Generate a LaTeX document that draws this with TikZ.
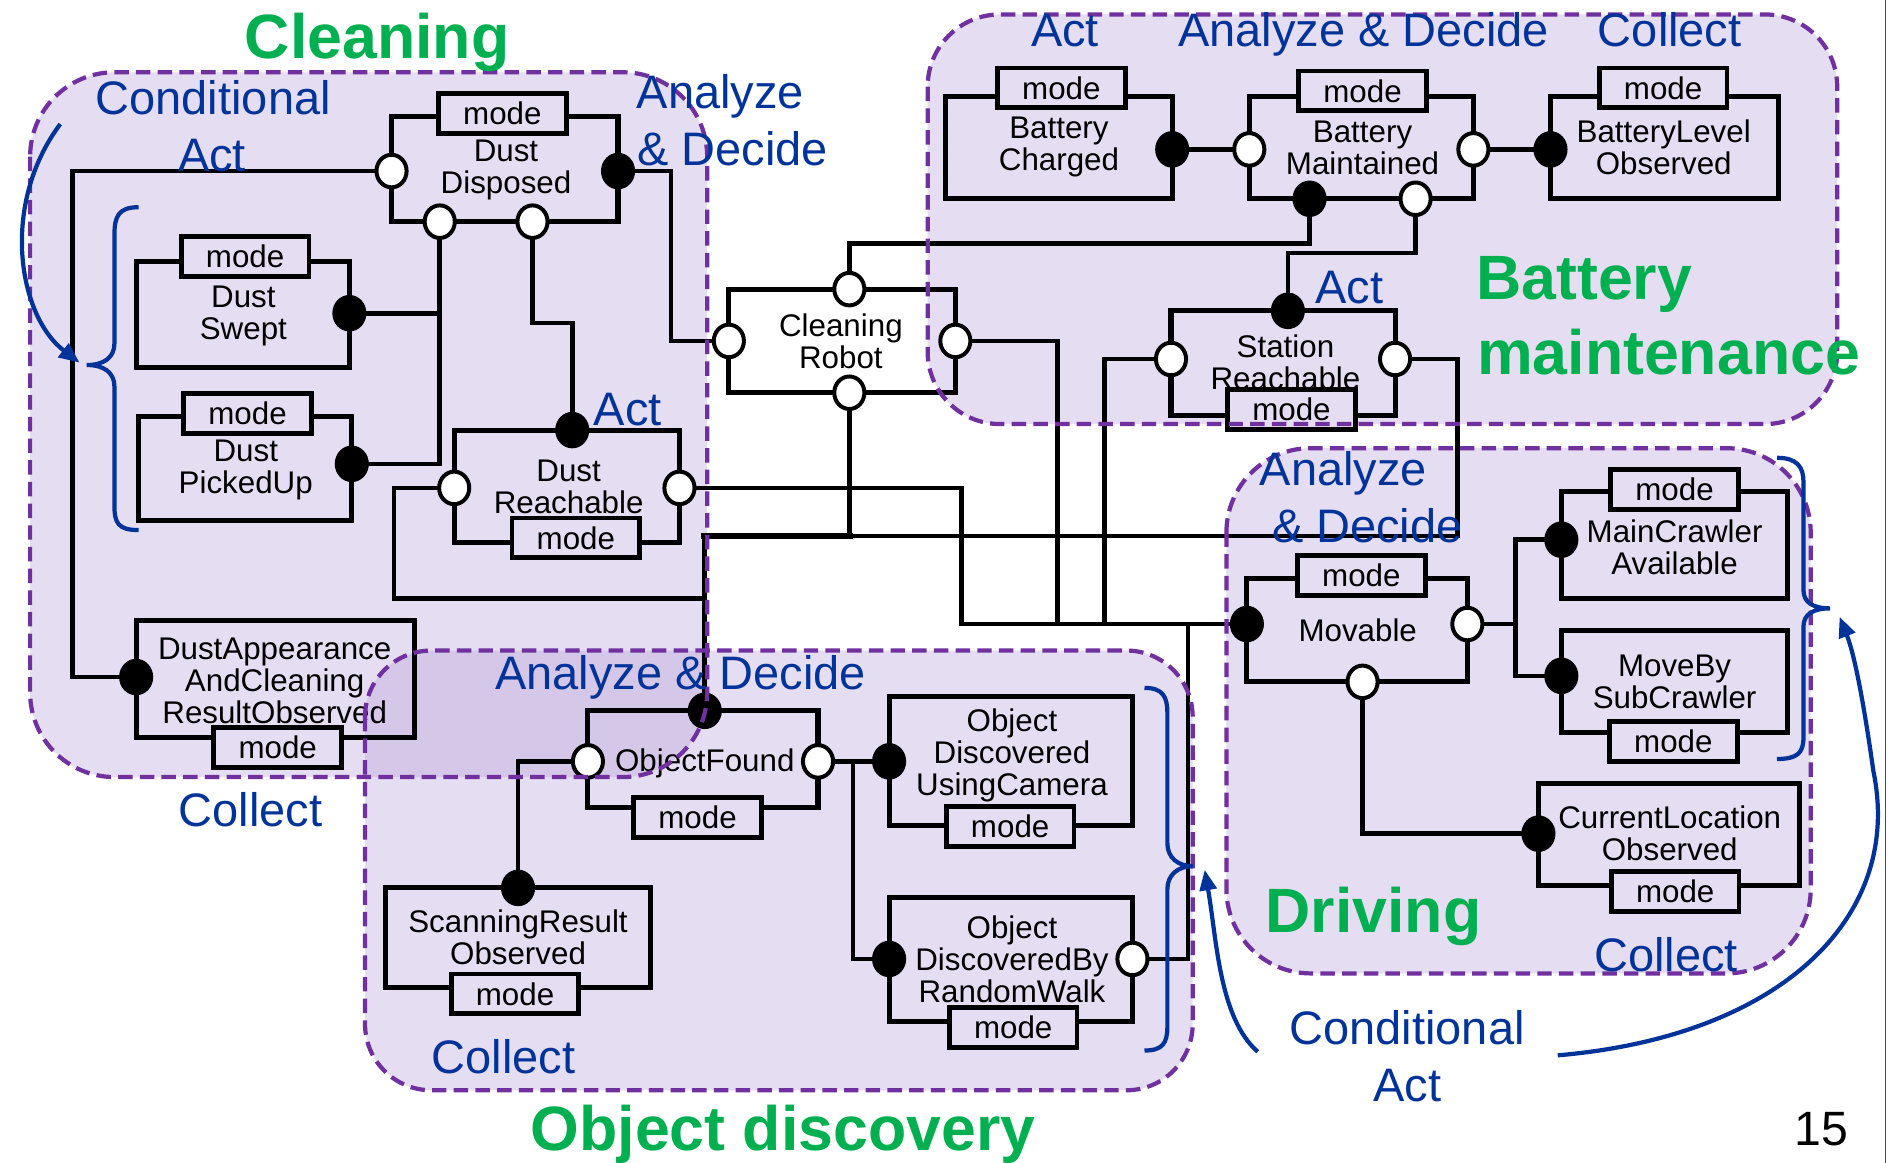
\documentclass[tikz,border=0pt]{standalone}
\usepackage{fontspec}
\setmainfont{Liberation Sans}
\usetikzlibrary{arrows.meta,shapes.geometric}
\pgfdeclarelayer{bg}
\pgfdeclarelayer{wl}
\pgfsetlayers{bg,wl,main}
\definecolor{rfill}{RGB}{229,221,241}
\definecolor{rover}{RGB}{212,199,232}
\definecolor{rline}{RGB}{112,48,160}
\definecolor{lblue}{RGB}{0,51,153}
\definecolor{lgreen}{RGB}{0,176,80}
\newcommand{\nodefont}{\fontsize{26}{26.5}\selectfont}
\newcommand{\lblfont}{\fontsize{39}{46}\selectfont}
\newcommand{\ttlfont}{\fontsize{52}{60}\selectfont\bfseries}
\tikzset{
  regionborder/.style={draw=rline, line width=3.5pt, dash pattern=on 12pt off 6pt},
  blk/.style={draw=black, line width=4.2pt, inner sep=0pt},
  modetab/.style={draw=black, line width=4pt, fill=rfill, minimum width=106pt, minimum height=33pt, inner sep=0pt, font=\nodefont},
  ntext/.style={font=\nodefont, align=center, inner sep=0pt},
  pO/.style={ellipse, draw=black, fill=white, line width=3.3pt, minimum width=25pt, minimum height=27pt, inner sep=0pt},
  pF/.style={pO, fill=black},
  wire/.style={draw=black, line width=3.8pt, line cap=rect, line join=miter},
  blab/.style={font=\lblfont, text=lblue, inner sep=0pt, text height=28pt, text depth=0pt},
  glab/.style={font=\ttlfont, text=lgreen, inner sep=0pt, text height=37.5pt, text depth=0pt},
  barrow/.style={draw=lblue, line width=3.5pt, -{Triangle[length=17pt,width=14pt]}},
  bbrace/.style={draw=lblue, line width=3.5pt},
}
\begin{document}
\begin{tikzpicture}[x=1pt,y=-1pt]
\useasboundingbox (0,0) rectangle (1568,965);

% ---------- region fills
\begin{pgfonlayer}{bg}
\fill[white] (0,0) rectangle (1568,965);
\fill[rfill, rounded corners=70pt] (25,60) rectangle (587,645);
\fill[rfill, rounded corners=55pt] (303,540) rectangle (990,905);
\fill[rfill, rounded corners=60pt] (770,12) rectangle (1525,352);
\fill[rfill, rounded corners=70pt] (1018,372) rectangle (1503,808);
\begin{scope}
\clip[rounded corners=70pt] (25,60) rectangle (587,645);
\fill[rover, rounded corners=55pt] (303,540) rectangle (990,905);
\end{scope}
\end{pgfonlayer}

% ---------- boxes
\node[blk, minimum width=188pt, minimum height=87pt] (DD) at (419,140.5) {};
\node[blk, minimum width=177pt, minimum height=88pt] (DS) at (201.5,261) {};
\node[blk, minimum width=177pt, minimum height=86pt] (DP) at (203.5,389) {};
\node[blk, minimum width=187pt, minimum height=93pt] (DR) at (470.5,403.5) {};
\node[blk, minimum width=231pt, minimum height=97pt] (DA) at (228.5,563.5) {};
\node[blk, minimum width=188pt, minimum height=86pt] (CR) at (699,283) {};
\node[blk, minimum width=188pt, minimum height=85pt] (BC) at (879,122.5) {};
\node[blk, minimum width=186pt, minimum height=85pt] (BM) at (1130,122.5) {};
\node[blk, minimum width=189pt, minimum height=85pt] (BL) at (1381.5,122.5) {};
\node[blk, minimum width=186pt, minimum height=87pt] (SR) at (1065,301.5) {};
\node[blk, minimum width=191pt, minimum height=80pt] (OF) at (583.5,630) {};
\node[blk, minimum width=202pt, minimum height=107pt] (OC) at (839,631.5) {};
\node[blk, minimum width=220pt, minimum height=83pt] (SO) at (430,778.5) {};
\node[blk, minimum width=202pt, minimum height=103pt] (OR) at (839,796.5) {};
\node[blk, minimum width=183pt, minimum height=86pt] (MV) at (1126.5,523) {};
\node[blk, minimum width=188pt, minimum height=89pt] (MC) at (1390,452.5) {};
\node[blk, minimum width=188pt, minimum height=85pt] (MS) at (1390,565.5) {};
\node[blk, minimum width=217pt, minimum height=85pt] (CL) at (1385.5,692.5) {};

% ---------- mode tabs
\node[modetab] (DDm) at (417,94) {mode};
\node[modetab] (DSm) at (203.5,213) {mode};
\node[modetab] (DPm) at (205.5,343) {mode};
\node[modetab] (DRm) at (478,446.5) {mode};
\node[modetab] (DAm) at (230.5,620.5) {mode};
\node[modetab] (BCm) at (881,73) {mode};
\node[modetab] (BMm) at (1131,75.5) {mode};
\node[modetab] (BLm) at (1380.5,73) {mode};
\node[modetab] (SRm) at (1072,340) {mode};
\node[modetab] (OFm) at (579,678.5) {mode};
\node[modetab] (OCm) at (838.5,686) {mode};
\node[modetab] (SOm) at (427.5,825) {mode};
\node[modetab] (ORm) at (841,853) {mode};
\node[modetab] (MVm) at (1130,477.5) {mode};
\node[modetab] (MCm) at (1390,406.5) {mode};
\node[modetab] (MSm) at (1389,615.5) {mode};
\node[modetab] (CLm) at (1390.5,740) {mode};

% ---------- box texts
\node[ntext] (tDD) at (420,141) {Dust\\Disposed};
\node[ntext] (tDS) at (202,262) {Dust\\Swept};
\node[ntext] (tDP) at (204,390) {Dust\\PickedUp};
\node[ntext] (tDR) at (472,404) {Dust\\Reachable};
\node[ntext] (tDA) at (228,565) {DustAppearance\\AndCleaning\\ResultObserved};
\node[ntext] (tCR) at (698,283) {Cleaning\\Robot};
\node[ntext] (tBC) at (879,122) {Battery\\Charged};
\node[ntext] (tBM) at (1131,123) {Battery\\Maintained};
\node[ntext] (tBL) at (1381,122) {BatteryLevel\\Observed};
\node[ntext] (tSR) at (1067,301) {Station\\Reachable};
\node[ntext] (tOF) at (585,634) {ObjectFound};
\node[ntext] (tOC) at (840,627) {Object\\Discovered\\UsingCamera};
\node[ntext] (tSO) at (430,778) {ScanningResult\\Observed};
\node[ntext] (tOR) at (840,796) {Object\\DiscoveredBy\\RandomWalk};
\node[ntext] (tMV) at (1127,523) {Movable};
\node[ntext] (tMC) at (1390,454) {MainCrawler\\Available};
\node[ntext] (tMS) at (1390,566) {MoveBy\\SubCrawler};
\node[ntext] (tCL) at (1386,692) {CurrentLocation\\Observed};

% ---------- ports
\node[pO] (DDl) at (325,142) {};
\node[pF] (DDr) at (513,142) {};
\node[pO] (DDb1) at (365,184) {};
\node[pO] (DDb2) at (442,184) {};
\node[pF] (DSr) at (290,260) {};
\node[pF] (DPr) at (292,385) {};
\node[pF] (DRt) at (475,357) {};
\node[pO] (DRl) at (377,405) {};
\node[pO] (DRr) at (564,405) {};
\node[pF] (DAl) at (113,562) {};
\node[pO] (CRt) at (705,240) {};
\node[pO] (CRl) at (605,283) {};
\node[pO] (CRr) at (793,283) {};
\node[pO] (CRb) at (705,326) {};
\node[pF] (BCr) at (973,124) {};
\node[pO] (BMl) at (1037,124) {};
\node[pO] (BMr) at (1223,124) {};
\node[pF] (BMb1) at (1087,165) {};
\node[pO] (BMb2) at (1175,165) {};
\node[pF] (BLl) at (1287,124) {};
\node[pF] (SRt) at (1069,258) {};
\node[pO] (SRl) at (972,298) {};
\node[pO] (SRr) at (1158,298) {};
\node[pF] (OFt) at (585,590) {};
\node[pO] (OFl) at (488,632) {};
\node[pO] (OFr) at (679,632) {};
\node[pF] (OCl) at (738,632) {};
\node[pF] (SOt) at (430,737) {};
\node[pF] (ORl) at (738,796) {};
\node[pO] (ORr) at (940,796) {};
\node[pF] (MVl) at (1035,518) {};
\node[pO] (MVr) at (1218,518) {};
\node[pO] (MVb) at (1131,566) {};
\node[pF] (MCl) at (1296,448) {};
\node[pF] (MSl) at (1296,561) {};
\node[pF] (CLl) at (1277,692) {};

% ---------- wires
\coordinate (c1) at (60,350);
\coordinate (c3) at (475,268);
\coordinate (c4) at (557,210);
\coordinate (c5a) at (327,450);
\coordinate (c5b) at (585,497);
\coordinate (busL) at (585,445);
\coordinate (busR) at (1210,445);
\coordinate (lbL) at (798,518);
\coordinate (c7) at (878,518);
\coordinate (c8) at (917,518);
\coordinate (c9) at (986,518);
\coordinate (c10) at (705,202);
\coordinate (c11) at (1120,210);
\coordinate (c14) at (708,632);
\coordinate (c15) at (1258,505);
\begin{pgfonlayer}{wl}
\draw[wire] (DDl) -| (c1) |- (DAl);
\draw[wire] (DDb1) -- (DDb1 |- DPr) -- (DPr);
\draw[wire] (DSr) -- (DSr -| DDb1);
\draw[wire] (DDb2) |- (c3) -- (DRt);
\draw[wire] (DDr) -| (c4) |- (CRl);
\draw[wire] (DRl) -| (c5a) |- (c5b);
\draw[wire] (busL) -- (busR);
\draw[wire, line width=5.5pt] (busL) -- (busL -| CRb);
\draw[wire] (busL) -- (OFt);
\draw[wire] (SRr) -| (busR);
\draw[wire] (CRb) -- (CRb |- busL);
\draw[wire] (DRr) -| (lbL) -- (MVl);
\draw[wire] (CRr) -| (c7);
\draw[wire] (SRl) -| (c8);
\draw[wire] (ORr) -| (c9);
\draw[wire] (BMb1) |- (c10) -- (CRt);
\draw[wire] (SRt) |- (c11) -| (BMb2);
\draw[wire] (BCr) -- (BMl);
\draw[wire] (BMr) -- (BLl);
\draw[wire] (OFl) -| (SOt);
\draw[wire] (OFr) -- (OCl);
\draw[wire] (c14) |- (ORl);
\draw[wire] (MCl) -| (c15) |- (MSl);
\draw[wire] (MVr) -- (MVr -| c15);
\draw[wire] (MVb) |- (CLl);
\end{pgfonlayer}

% ---------- region borders
\draw[regionborder, rounded corners=70pt] (25,60) rectangle (587,645);
\draw[regionborder, rounded corners=55pt] (303,540) rectangle (990,905);
\draw[regionborder, rounded corners=60pt] (770,12) rectangle (1525,352);
\draw[regionborder, rounded corners=70pt] (1018,372) rectangle (1503,808);

% ---------- braces and arrows
\draw[bbrace] (115,172) .. controls (98,172) and (95,180) .. (95,195) -- (95,285)
  .. controls (95,297) and (86,303) .. (72,303) .. controls (86,303) and (95,309) .. (95,321)
  -- (95,420) .. controls (95,434) and (98,440) .. (115,440);
\draw[barrow] (50,103) .. controls (0,170) and (15,262) .. (66,301);

\draw[bbrace] (950,571) .. controls (965,571) and (969,578) .. (969,592) -- (969,700)
  .. controls (969,712) and (978,719) .. (990,719) .. controls (978,719) and (969,726) .. (969,738)
  -- (969,852) .. controls (969,866) and (965,872) .. (950,872);
\draw[bbrace] (1475,380) .. controls (1492,380) and (1497,388) .. (1497,400) -- (1497,490)
  .. controls (1497,500) and (1505,505) .. (1519,505) .. controls (1505,505) and (1497,510) .. (1497,520)
  -- (1497,612) .. controls (1497,625) and (1492,630) .. (1475,630);
\draw[barrow] (1044,873) .. controls (1012,845) and (1010,780) .. (1000,722);
\draw[barrow] (1293,876) .. controls (1480,860) and (1580,760) .. (1555,640)
  .. controls (1548,590) and (1540,545) .. (1527,512);

% ---------- blue labels
\node[blab] (l1) at (177,81) {Conditional};
\node[blab] (l2) at (176,128) {Act};
\node[blab] (l3) at (598,76) {Analyze};
\node[blab] (l4) at (608,123) {\& Decide};
\node[blab] (l5) at (521,339) {Act};
\node[blab] (l6) at (208,672) {Collect};
\node[blab] (l7) at (884,25) {Act};
\node[blab] (l8) at (1132,25) {Analyze \& Decide};
\node[blab] (l9) at (1386,25) {Collect};
\node[blab] (l10) at (1120,238) {Act};
\node[blab] (l11) at (565,558) {Analyze \& Decide};
\node[blab] (l12) at (418,877) {Collect};
\node[blab] (l13) at (1115,389) {Analyze};
\node[blab] (l14) at (1135,436) {\& Decide};
\node[blab] (l15) at (1383,792) {Collect};
\node[blab] (l16) at (1168,853) {Conditional};
\node[blab] (l17) at (1168,900) {Act};

% ---------- green titles
\node[glab] (g1) at (313,30) {Cleaning};
\node[glab] (g2) at (1315,230) {Battery};
\node[glab] (g3) at (1385,292) {maintenance};
\node[glab] (g4) at (650,936) {Object discovery};
\node[glab] (g5) at (1140,755) {Driving};
\node[font=\fontsize{40}{46}\selectfont, inner sep=0pt, text height=29pt, text depth=0pt] (pg) at (1512,936) {15};

\draw[black!70, line width=1pt] (1565,0) -- (1565,965);
\end{tikzpicture}
\end{document}
